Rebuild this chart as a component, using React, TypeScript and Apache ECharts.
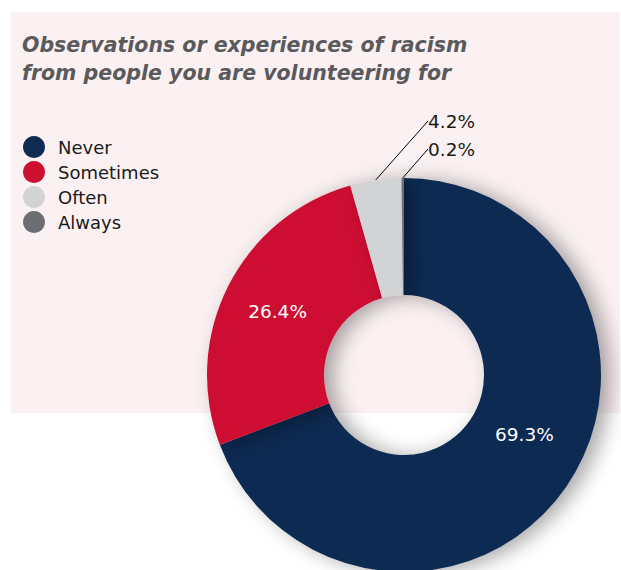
import React, { useEffect, useRef } from "react";
import * as echarts from "echarts";

const titleLines = [
  "Observations or experiences of racism",
  "from people you are volunteering for",
];
const categories = ["Never", "Sometimes", "Often", "Always"];
const values = [69.3, 26.4, 4.2, 0.2];
const colors = ["#0f2b52", "#cd1030", "#d1d3d5", "#6d6e71"];

export default function App() {
  const ref = useRef<HTMLDivElement>(null);
  useEffect(() => {
    if (!ref.current) return;
    const chart = echarts.init(ref.current, null, { renderer: "svg" });
    const data = categories.map((name, i) => ({
      name,
      value: values[i],
      itemStyle: { color: colors[i] },
    }));
    chart.setOption({
      animation: false,
      backgroundColor: "#ffffff",
      graphic: [
        {
          type: "rect",
          z: -10,
          silent: true,
          shape: { x: 11, y: 12, width: 609, height: 401 },
          style: { fill: "#fbf1f2" },
        },
      ],
      title: {
        text: titleLines.join("\n"),
        left: 17,
        top: 26,
        textStyle: {
          fontFamily: "DejaVu Sans",
          fontStyle: "italic",
          fontWeight: "bold",
          fontSize: 20.5,
          lineHeight: 28,
          color: "#5a5a5d",
        },
      },
      legend: {
        orient: "vertical",
        left: 18,
        top: 131,
        icon: "circle",
        itemWidth: 22,
        itemHeight: 22,
        itemGap: 3,
        data: categories,
        textStyle: {
          fontFamily: "DejaVu Sans",
          fontSize: 18,
          color: "#1a1a1a",
          padding: [0, 0, 0, 8],
        },
      },
      series: [
        {
          type: "pie",
          center: [404, 375],
          radius: [80, 197],
          startAngle: 90,
          clockwise: true,
          avoidLabelOverlap: false,
          itemStyle: {
            shadowBlur: 20,
            shadowColor: "rgba(0,0,0,0.35)",
            shadowOffsetX: 9,
            shadowOffsetY: 2,
          },
          label: {
            position: "inside",
            formatter: (p: any) => p.value.toFixed(1) + "%",
            color: "#ffffff",
            fontFamily: "DejaVu Sans",
            fontSize: 18.5,
          },
          labelLine: { show: true, lineStyle: { color: "#000000", width: 1 } },
          labelLayout: (p: any) => {
            if (p.dataIndex === 0) {
              return { dx: 4, dy: -21 };
            }
            if (p.dataIndex === 2) {
              return { x: 421, y: 121, align: "left", verticalAlign: "middle" };
            }
            if (p.dataIndex === 3) {
              return { x: 421, y: 149, align: "left", verticalAlign: "middle" };
            }
            return {};
          },
          data: data.map((d, i) =>
            i >= 2
              ? {
                  ...d,
                  label: {
                    position: "outside",
                    color: "#1a1a1a",
                    fontSize: 18.5,
                    padding: [0, 0, 0, 7],
                  },
                  labelLine: { show: true, length: 20, length2: 0 },
                }
              : { ...d, labelLine: { show: false } }
          ),
        },
      ],
    });
    return () => chart.dispose();
  }, []);
  return (
    <div
      ref={ref}
      style={{ position: "fixed", left: 0, top: 0, width: 621, height: 570 }}
    />
  );
}
